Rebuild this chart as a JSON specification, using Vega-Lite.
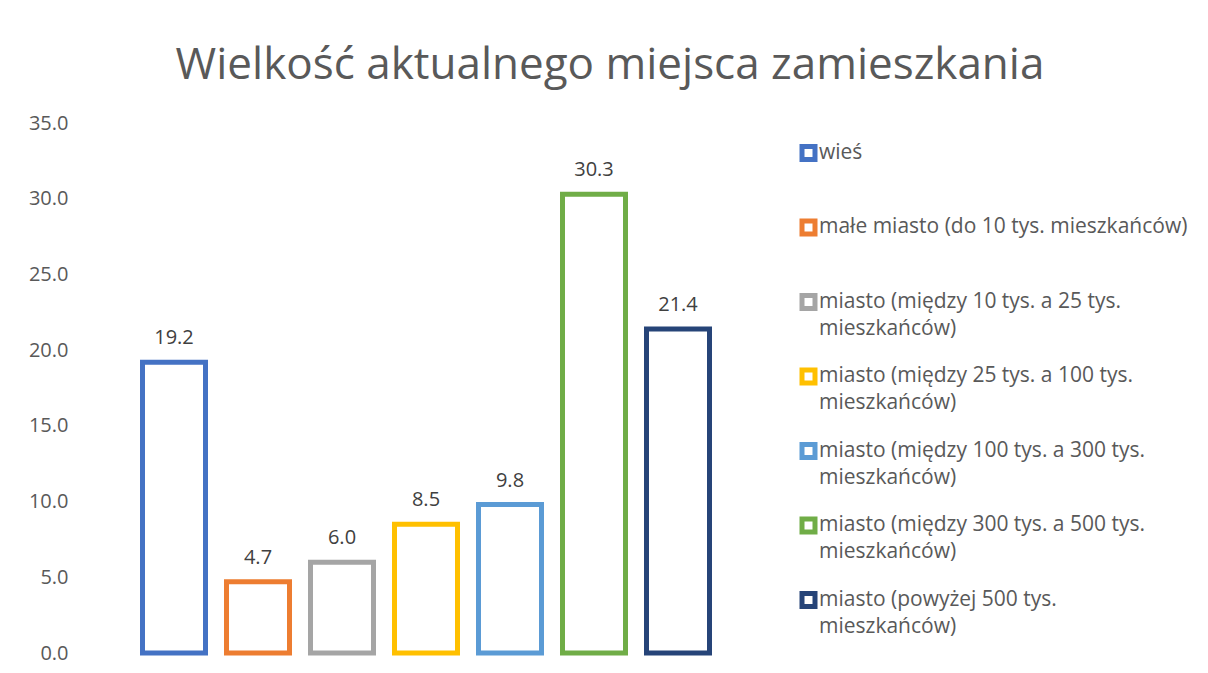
{
  "$schema": "https://vega.github.io/schema/vega-lite/v6.json",
  "width": 588,
  "height": 530,
  "autosize": {"type": "none"},
  "padding": {"left": 132, "top": 123, "right": 488, "bottom": 20},
  "background": "white",
  "title": {
    "text": "Wielkość aktualnego miejsca zamieszkania",
    "font": "Open Sans",
    "fontSize": 44,
    "fontWeight": "normal",
    "color": "#595959",
    "anchor": "middle",
    "baseline": "alphabetic",
    "dx": 184,
    "offset": -10
  },
  "data": {
    "values": [
      {"kategoria": "wieś", "procent": 19.2},
      {"kategoria": "małe miasto (do 10 tys. mieszkańców)", "procent": 4.7},
      {"kategoria": "miasto (między 10 tys. a 25 tys. mieszkańców)", "procent": 6.0},
      {"kategoria": "miasto (między 25 tys. a 100 tys. mieszkańców)", "procent": 8.5},
      {"kategoria": "miasto (między 100 tys. a 300 tys. mieszkańców)", "procent": 9.8},
      {"kategoria": "miasto (między 300 tys. a 500 tys. mieszkańców)", "procent": 30.3},
      {"kategoria": "miasto (powyżej 500 tys. mieszkańców)", "procent": 21.4}
    ]
  },
  "encoding": {
    "x": {
      "field": "kategoria",
      "type": "nominal",
      "sort": null,
      "axis": null,
      "scale": {"paddingInner": 0.25, "paddingOuter": 0.125}
    },
    "y": {
      "field": "procent",
      "type": "quantitative",
      "scale": {"domain": [0, 35]},
      "axis": {
        "values": [0, 5, 10, 15, 20, 25, 30, 35],
        "format": ".1f",
        "grid": false,
        "domain": false,
        "ticks": false,
        "title": null,
        "labelFont": "Open Sans",
        "labelFontSize": 20,
        "labelColor": "#595959",
        "labelPadding": 64
      }
    }
  },
  "layer": [
    {
      "mark": {"type": "bar", "fill": "white", "strokeWidth": 5, "strokeJoin": "miter"},
      "encoding": {
        "stroke": {
          "field": "kategoria",
          "type": "nominal",
          "sort": null,
          "scale": {
            "domain": [
              "wieś",
              "małe miasto (do 10 tys. mieszkańców)",
              "miasto (między 10 tys. a 25 tys. mieszkańców)",
              "miasto (między 25 tys. a 100 tys. mieszkańców)",
              "miasto (między 100 tys. a 300 tys. mieszkańców)",
              "miasto (między 300 tys. a 500 tys. mieszkańców)",
              "miasto (powyżej 500 tys. mieszkańców)"
            ],
            "range": ["#4472C4", "#ED7D31", "#A5A5A5", "#FFC000", "#5B9BD5", "#70AD47", "#264478"]
          },
          "legend": {
            "orient": "none",
            "legendX": 666,
            "legendY": 25,
            "title": null,
            "symbolType": "M-1,-1.86H1V0.14H-1Z",
            "symbolSize": 169,
            "symbolStrokeWidth": 5,
            "symbolFillColor": "white",
            "labelFont": "Open Sans",
            "labelFontSize": 21,
            "labelColor": "#595959",
            "labelBaseline": "alphabetic",
            "labelOffset": 0,
            "labelLimit": 450,
            "rowPadding": 20.5,
            "labelExpr": "indexof(datum.label, 'miasto (') == 0 ? [replace(datum.label, ' mieszkańców)', ''), 'mieszkańców)'] : [datum.label, ' ']"
          }
        }
      }
    },
    {
      "mark": {
        "type": "text",
        "dy": -18,
        "baseline": "alphabetic",
        "font": "Open Sans",
        "fontSize": 20,
        "color": "#404040"
      },
      "encoding": {
        "text": {"field": "procent", "type": "quantitative", "format": ".1f"}
      }
    }
  ],
  "config": {
    "view": {"stroke": null},
    "style": {"guide-label": {"lineHeight": 27}}
  }
}
